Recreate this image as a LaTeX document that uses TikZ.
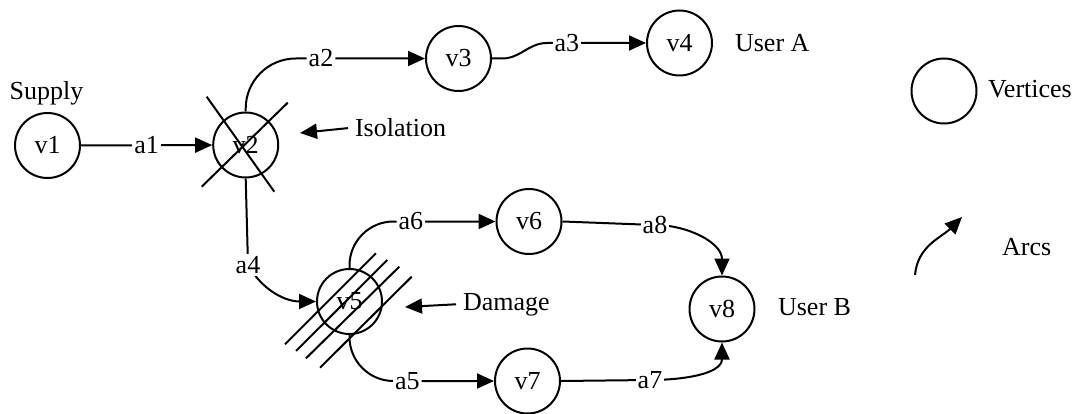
\documentclass[tikz,border=0pt]{standalone}
\usepackage{fontspec}
\setmainfont{Liberation Serif}
\usetikzlibrary{arrows.meta}

\begin{document}
\begin{tikzpicture}[x=0.5pt,y=0.5pt,
		every node/.style={font=\fontsize{13}{15}\selectfont},
		vertex/.style={draw, circle, line width=1pt, minimum size=32.5pt, inner sep=0pt},
		link/.style={line width=1pt, -{Triangle[length=8.5pt,width=7.5pt]}},
		lbl/.style={fill=white, inner sep=1pt},
		hatch/.style={line width=1pt}]
		\useasboundingbox (0,0) rectangle (1082,413);

		% vertices
		\node[vertex] (v1) at (47.5,267.5) {v1};
		\node[vertex] (v2) at (245.7,268) {v2};
		\node[vertex] (v3) at (458.5,354.5) {v3};
		\node[vertex] (v4) at (679.5,370) {v4};
		\node[vertex] (v5) at (349.5,111.5) {v5};
		\node[vertex] (v6) at (529,191.5) {v6};
		\node[vertex] (v7) at (527.5,32) {v7};
		\node[vertex] (v8) at (722,104) {v8};

		% arcs
		\draw[link] (v1) -- node[lbl]{a1} (v2);
		\draw[link, rounded corners=25pt] (v2.north) |- node[lbl,pos=0.71]{a2} (v3.west);
		\draw[link] (v3.east) -- ++(10,0) to[out=0,in=180] ++(45,15.5) -- node[lbl,pos=0.2]{a3} (v4.west);
		\draw[link] (v2.south) -- (248,148) node[lbl]{a4} to[out=-60,in=180] (v5.west);
		\draw[link, rounded corners=22pt] (v5.south) |- node[lbl,pos=0.7]{a5} (v7.west);
		\draw[link, rounded corners=22pt] (v5.north) |- node[lbl,pos=0.71]{a6} (v6.west);
		\draw[link] (v7.east) -- (650,33) node[lbl]{a7} to[out=0,in=-90] (v8.south);
		\draw[link] (v6.east) -- (655,188) node[lbl]{a8} to[out=0,in=90] (v8.north);

		% isolation cross on v2
		\draw[hatch] (206.7,316.3) -- (274.3,221.3);
		\draw[hatch] (287.7,310.3) -- (201.7,226.3);

		% damage hatching on v5
		\draw[hatch] (285,68.7) -- (376,159.7);
		\draw[hatch] (296,62) -- (387.3,153);
		\draw[hatch] (306,54.7) -- (399.3,146.3);
		\draw[hatch] (320,45.3) -- (411.7,136.3);

		% labels
		\node[anchor=base] (supply) at (46.5,313) {Supply};
		\node[anchor=base west] (userA) at (728,361) {User A};
		\node[anchor=base west] (userB) at (771,98) {User B};
		\node[anchor=base west] (iso) at (348,276) {Isolation};
		\coordinate (isotip) at (300,280);
		\draw[link] (iso.west) -- (isotip);
		\node[anchor=base west] (dmg) at (456,103) {Damage};
		\coordinate (dmgtip) at (405,106);
		\draw[link] (dmg.west) -- (dmgtip);

		% key
		\node[vertex] (key) at (944,322) {};
		\node[anchor=base west] (vtx) at (981,315) {Vertices};
		\coordinate (keyfrom) at (915,138);
		\coordinate (keyto) at (962,196);
		\draw[link] (keyfrom) to[out=85,in=225] (keyto);
		\node[anchor=base west] (arcs) at (995,158) {Arcs};
	\end{tikzpicture}
\end{document}
